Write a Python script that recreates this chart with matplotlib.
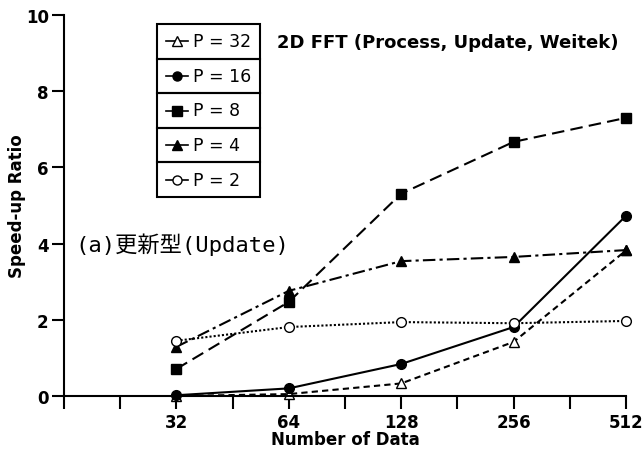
import numpy as np
import matplotlib
matplotlib.use("Agg")
import matplotlib.pyplot as plt
from matplotlib.lines import Line2D
from matplotlib.patches import Rectangle

# Data
n_data = [32, 64, 128, 256, 512]
x_ticklabels = ["32", "64", "128", "256", "512"]
p32 = [0.0, 0.05, 0.33, 1.42, 3.82]
p16 = [0.02, 0.20, 0.84, 1.81, 4.73]
p8 = [0.71, 2.47, 5.31, 6.67, 7.30]
p4 = [1.29, 2.76, 3.54, 3.65, 3.83]
p2 = [1.45, 1.81, 1.94, 1.91, 1.97]
labels = ["P = 32", "P = 16", "P = 8", "P = 4", "P = 2"]

W, H = 642, 452
fig = plt.figure(figsize=(W / 100, H / 100), dpi=100)
ax = fig.add_axes([64 / W, 1 - 397 / H, (626 - 64) / W, (397 - 16) / H])

x = np.log2(n_data)
lw = 1.5
ms = 7
series = [
    (p32, dict(ls=(0, (3, 2)), marker="^", mfc="white", mec="black")),
    (p16, dict(ls="-", marker="o", mfc="black", mec="black")),
    (p8, dict(ls=(0, (6, 3)), marker="s", mfc="black", mec="black")),
    (p4, dict(ls=(0, (6, 2, 1.5, 2)), marker="^", mfc="black", mec="black")),
    (p2, dict(ls=(0, (1, 1)), marker="o", mfc="white", mec="black")),
]
handles = []
for vals, st in series:
    ax.plot(x, vals, color="black", lw=lw, ms=ms, mew=1.0, clip_on=False, **st)
    handles.append(st)

ax.set_xlim(4, 9)
ax.set_ylim(0, 10)
ax.spines["top"].set_visible(False)
ax.spines["right"].set_visible(False)
ax.spines["left"].set_linewidth(1.5)
ax.spines["bottom"].set_linewidth(1.5)
ax.set_xticks([4] + list(x))
ax.set_xticklabels([""] + x_ticklabels)
ax.set_xticks(np.arange(4.5, 9, 1.0), minor=True)
ax.set_yticks([0, 2, 4, 6, 8, 10])
ax.tick_params(axis="both", which="both", direction="out", length=9, width=1.5)
ax.tick_params(axis="y", pad=2)
for lab in ax.get_xticklabels() + ax.get_yticklabels():
    lab.set_fontweight("bold")
    lab.set_fontsize(12)
ax.set_xlabel("Number of Data", fontsize=12, fontweight="bold", labelpad=-1)
ax.set_ylabel("Speed-up Ratio", fontsize=12, fontweight="bold", labelpad=0)

fig.text(277 / W, 1 - 43 / H, "2D FFT (Process, Update, Weitek)", fontsize=13,
         fontweight="bold", ha="left", va="center")
fig.text(75 / W, 1 - 245 / H, "(a)更新型(Update)", fontsize=16,
         family=["DejaVu Sans Mono", "Noto Sans CJK JP"], ha="left", va="center")

# Boxed legend
lx0, lx1 = 157, 260
ly0, ly1 = 25, 198
rowh = (ly1 - ly0) / 5
for i, (lab, st) in enumerate(zip(labels, handles)):
    top = ly0 + i * rowh
    fig.patches.append(Rectangle((lx0 / W, 1 - (top + rowh) / H), (lx1 - lx0) / W, rowh / H,
                                 transform=fig.transFigure, fill=False, lw=1.5, ec="black"))
    yc = 1 - (top + rowh / 2) / H
    fig.lines.append(Line2D([166 / W, 188 / W], [yc, yc], transform=fig.transFigure,
                            color="black", lw=1.2, ls="-", marker=None))
    fig.lines.append(Line2D([177 / W], [yc], transform=fig.transFigure, color="black",
                            marker=st["marker"], mfc=st["mfc"], mec="black", ms=6.5, ls="none"))
    fig.text(193 / W, yc, lab, fontsize=12.5, ha="left", va="center")

fig.savefig("out.png", dpi=100)
